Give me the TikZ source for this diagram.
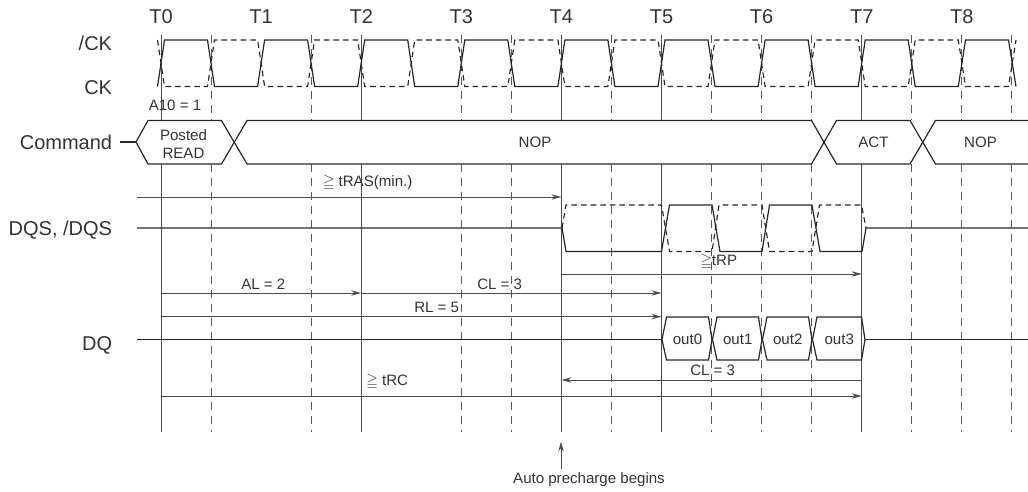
\documentclass[tikz,border=0pt]{standalone}
\usepackage{amsmath, amssymb}
\usepackage{fontspec}
\usepackage{xcolor}
\usepackage{tikz}
\usetikzlibrary{arrows.meta, positioning, calc}
\setmainfont{Liberation Sans}

\tikzset{
    biglabel/.style={text=black!80, inner sep=2pt, font=\fontsize{15}{18}\selectfont},
    smalllabel/.style={text=black!80, inner sep=0pt, font=\fontsize{11.3}{13.5}\selectfont},
    signal/.style={line width=0.9pt, black!85, line join=miter},
    dashsignal/.style={line width=0.85pt, black!85, dash pattern=on 4.2pt off 3pt},
    gridsolid/.style={line width=0.75pt, black!70},
    griddash/.style={line width=0.75pt, black!65, dash pattern=on 6pt off 4.5pt},
    timearrow/.style={line width=0.75pt, black!70, -{Stealth[length=7.5pt,width=4pt]}},
}

\begin{document}
\begin{tikzpicture}[x=0.75pt, y=-0.75pt]
    \useasboundingbox (0, 0) rectangle (1028, 492);

    % half-cycle positions
    \foreach \i in {0,...,17} {
        \coordinate (g\i) at ({161+50.05*\i}, 0);
    }

    % grid
    \foreach \i in {1,3,6,7,9,11,12,13,15,16,17} {
        \draw[griddash] (g\i) ++(0, 35) -- ++(0, 85);
        \draw[griddash] (g\i) ++(0, 164) -- ++(0, 268);
    }
    \foreach \i in {0,4,8,10,14} {
        \draw[gridsolid] (g\i) ++(0, 35) -- ++(0, 85);
        \draw[gridsolid] (g\i) ++(0, 164) -- ++(0, 268);
    }

    % time labels
    \foreach \i in {0,...,8} {
        \node[biglabel] (t\i) at ({161+100.1*\i}, 17) {T\i};
    }

    % signal names
    \node[biglabel, anchor=east] (lblCKn) at (115, 43) {/CK};
    \node[biglabel, anchor=east] (lblCK) at (115, 88) {CK};
    \node[biglabel, anchor=east] (lblCommand) at (115, 142) {Command};
    \node[biglabel, anchor=east] (lblDQS) at (115, 230.5) {DQS, /DQS};
    \node[biglabel, anchor=east] (lblDQ) at (115, 345.5) {DQ};

    % clocks
    \draw[signal] (157.5, 86.5)
        \foreach \i [evaluate=\i as \x using 161+100.1*\i] in {0,...,7} {
            -- (\x+3.5, 40) -- (\x+46.5, 40) -- (\x+53.5, 86.5) -- (\x+96.6, 86.5)
        }
        -- (965.5, 40) -- (1008.5, 40) -- (1016, 86.5);
    \draw[dashsignal] (157.5, 40)
        \foreach \i [evaluate=\i as \x using 161+100.1*\i] in {0,...,7} {
            -- (\x+3.5, 86.5) -- (\x+46.5, 86.5) -- (\x+53.5, 40) -- (\x+96.6, 40)
        }
        -- (965.5, 86.5) -- (1008.5, 86.5) -- (1016, 40);

    \node[smalllabel] (a10) at (175, 105) {A10 = 1};

    % command bus
    \coordinate (cmdTip) at (136, 142);
    \draw[signal] (lblCommand.east) ++(4pt, 0) -- (cmdTip);
    \draw[signal] (cmdTip) -- (148, 120.5) -- (221.5, 120.5) -- (247, 164) -- (811.5, 164)
        -- (836.5, 120.5) -- (910, 120.5) -- (935.5, 164) -- (1028, 164);
    \draw[signal] (cmdTip) -- (148, 164) -- (221.5, 164) -- (247, 120.5) -- (811.5, 120.5)
        -- (836.5, 164) -- (910, 164) -- (935.5, 120.5) -- (1028, 120.5);
    \node[smalllabel, align=center] (posted) at (183.5, 144) {Posted\\READ};
    \node[smalllabel] (nopA) at (535, 142) {NOP};
    \node[smalllabel] (act) at (873.5, 142) {ACT};
    \node[smalllabel] (nopB) at (980.5, 142) {NOP};

    % DQS
    \draw[signal] (137, 228) -- (562, 228) -- (566, 251.5) -- (661.5, 251.5) -- (669.5, 205)
        -- (712, 205) -- (720, 251.5) -- (762, 251.5) -- (769.5, 205) -- (812, 205)
        -- (820, 251.5) -- (862, 251.5) -- (866, 228) -- (1028, 228);
    \draw[dashsignal] (562, 228) -- (566, 205) -- (661.5, 205) -- (669.5, 251.5) -- (712, 251.5)
        -- (719, 205) -- (762, 205) -- (769.5, 251.5) -- (812, 251.5) -- (819.5, 205)
        -- (861.5, 205) -- (866, 228);

    % DQ
    \draw[signal] (137, 339.6) -- (662, 339.6);
    \draw[signal] (865, 339.6) -- (1028, 339.6);
    \foreach \a/\b [count=\n from 0] in {662/712, 712.5/762, 762.5/812, 812.5/865} {
        \draw[signal] (\a, 339.6) -- (\a+4.5, 317) -- (\b-3.5, 317) -- (\b, 339.6)
            -- (\b-3.5, 360) -- (\a+4.5, 360) -- cycle;
        \node[smalllabel] (out\n) at ({(\a+\b)/2+0.5}, 339) {out\n};
    }

    % timing arrows
    \coordinate (rasStart) at (137, 197);
    \draw[timearrow] (rasStart) -- (rasStart -| g8);
    \coordinate (rpRow) at (0, 274);
    \draw[timearrow] (g8 |- rpRow) -- (g14 |- rpRow);
    \coordinate (alRow) at (0, 293);
    \draw[timearrow] (g0 |- alRow) -- (g4 |- alRow);
    \draw[timearrow] (g4 |- alRow) -- (g10 |- alRow);
    \coordinate (rlRow) at (0, 316.7);
    \draw[timearrow] (g0 |- rlRow) -- (g10 |- rlRow);
    \coordinate (clRow) at (0, 380);
    \draw[timearrow] (g14 |- clRow) -- (g8 |- clRow);
    \coordinate (rcRow) at (0, 396);
    \draw[timearrow] (g0 |- rcRow) -- (g14 |- rcRow);

    \node[smalllabel, anchor=west] (ras) at (322.5, 183) {$\geqq$ tRAS(min.)};
    \node[smalllabel, anchor=west] (rp) at (700, 262) {$\geqq$tRP};
    \node[smalllabel, anchor=west] (al) at (241, 284) {AL = 2};
    \node[smalllabel, anchor=west] (cla) at (477, 284) {CL = 3};
    \node[smalllabel, anchor=west] (rl) at (414, 307) {RL = 5};
    \node[smalllabel, anchor=west] (clb) at (690, 370) {CL = 3};
    \node[smalllabel, anchor=west] (rc) at (366, 382) {$\geqq$ tRC};

    % auto precharge
    \node[smalllabel] (auto) at (589, 480) {Auto precharge begins};
    \coordinate (autoBase) at (561, 469);
    \draw[timearrow] (autoBase) -- (561, 441.5);
\end{tikzpicture}
\end{document}
